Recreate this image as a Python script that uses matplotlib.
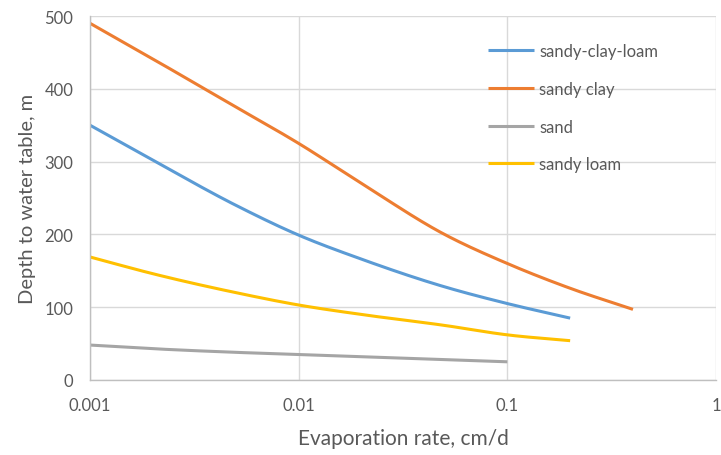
import numpy as np
from matplotlib import pyplot as plt

# values (x = evaporation rate, cm/d; y = depth, m)
rate = [0.001, 0.002, 0.005, 0.01, 0.02, 0.05, 0.1, 0.2, 0.4]
sandy_clay_loam = [350, 302, 240, 199, 166, 128, 105, 85]
sandy_clay = [490, 441, 375, 325, 270, 200, 160, 126, 97]
sand = [48, 43, 38, 35, 32, 28, 25]
sandy_loam = [169, 146, 120, 103, 90, 75, 62, 54]

series = [('sandy-clay-loam', sandy_clay_loam, '#5B9BD5'),
          ('sandy clay', sandy_clay, '#ED7D31'),
          ('sand', sand, '#A5A5A5'),
          ('sandy loam', sandy_loam, '#FFC000')]

txt = '#595959'
grid = '#D9D9D9'
plt.rcParams['font.family'] = ['Lato', 'DejaVu Sans']


def smooth(xs, ys, n=40):
    # cubic Hermite through the points in log-x space, tangents from neighbours
    lx = np.log10(xs)
    ys = np.asarray(ys, dtype=float)
    m = np.gradient(ys, lx)
    outx, outy = [], []
    t = np.linspace(0, 1, n)
    for i in range(len(lx)-1):
        h = lx[i+1] - lx[i]
        h00 = 2*t**3 - 3*t**2 + 1
        h10 = t**3 - 2*t**2 + t
        h01 = -2*t**3 + 3*t**2
        h11 = t**3 - t**2
        outx.extend(lx[i] + h*t)
        outy.extend(h00*ys[i] + h10*h*m[i] + h01*ys[i+1] + h11*h*m[i+1])
    return 10**np.array(outx), np.array(outy)


fig = plt.figure(figsize=(7.21, 4.56), dpi=100)
ax = fig.add_axes([90/721, 75/456, 626/721, 364/456])

for name, vals, col in series:
    sx, sy = smooth(rate[:len(vals)], vals)
    ax.plot(sx, sy, color=col, lw=2.2, label=name, solid_capstyle='butt')

ax.set_xscale('log')
ax.set_xlim(0.001, 1)
ax.set_ylim(0, 500)
ax.set_xticks([0.001, 0.01, 0.1, 1])
ax.set_xticklabels(['0.001', '0.01', '0.1', '1'])
ax.minorticks_off()
ax.set_yticks(range(0, 501, 100))
ax.grid(True, color=grid, lw=1)
ax.set_axisbelow(True)
for s in ['top', 'right']:
    ax.spines[s].set_visible(False)
for s in ['left', 'bottom']:
    ax.spines[s].set_color('#BFBFBF')
    ax.spines[s].set_linewidth(1)
ax.tick_params(length=0, labelsize=12, colors=txt, pad=12)
ax.set_xlabel('Evaporation rate, cm/d', fontsize=15, color=txt, labelpad=11)
ax.set_ylabel('Depth to water table, m', fontsize=14.5, color=txt, labelpad=6)

leg = ax.legend(loc='upper left', bbox_to_anchor=(0.635, 0.925), frameon=False,
                fontsize=12, handlelength=2.8, handletextpad=0.3,
                labelspacing=1.3, borderpad=0, borderaxespad=0)
for t in leg.get_texts():
    t.set_color(txt)

plt.savefig('out.png', dpi=100)
plt.close()
